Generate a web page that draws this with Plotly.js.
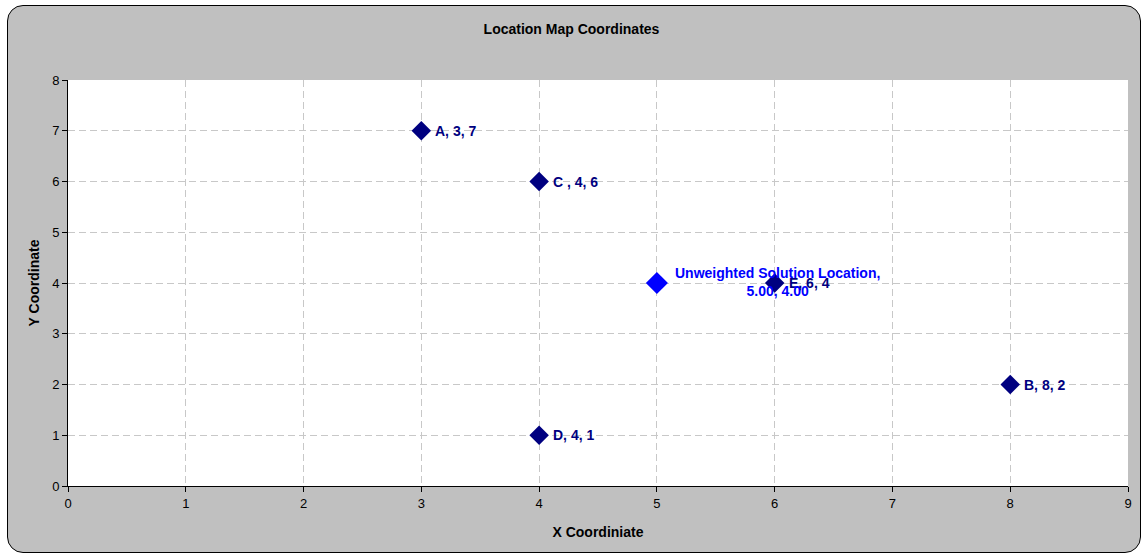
<!DOCTYPE html>
<html>
<head>
<meta charset="utf-8">
<script src="https://cdn.plot.ly/plotly-3.0.1.min.js"></script>
<style>
  html, body { margin: 0; padding: 0; background: #ffffff; }
  #frame {
    position: absolute; left: 7px; top: 5px; width: 1132px; height: 546px;
    background: #c0c0c0; border: 1.5px solid #000; border-radius: 16px;
  }
  #chart { position: absolute; left: 0; top: 0; width: 1143px; height: 555px; }
</style>
</head>
<body>
<div id="frame"></div>
<div id="chart"></div>
<script>
// Facility locations
const siteNames = ['A', 'B', 'C ', 'D', 'E'];
const siteX = [3, 8, 4, 4, 6];
const siteY = [7, 2, 6, 1, 4];

// Unweighted centre-of-gravity solution
const solutionName = 'Unweighted Solution Location';
const solutionX = [5.00];
const solutionY = [4.00];

const xTicks = [0, 1, 2, 3, 4, 5, 6, 7, 8, 9];
const yTicks = [0, 1, 2, 3, 4, 5, 6, 7, 8];

const FONT = 'Arial, "Liberation Sans", sans-serif';
const LABEL_SIZE = 14;

const sites = {
  type: 'scatter', mode: 'markers',
  x: siteX, y: siteY,
  marker: { symbol: 'diamond', size: 15, color: '#000080', line: { width: 0 } },
  hoverinfo: 'skip', showlegend: false, cliponaxis: false
};
const solution = {
  type: 'scatter', mode: 'markers',
  x: solutionX, y: solutionY,
  marker: { symbol: 'diamond', size: 17, color: '#0000ff', line: { width: 0 } },
  hoverinfo: 'skip', showlegend: false, cliponaxis: false
};

const annotations = siteNames.map((n, i) => ({
  x: siteX[i], y: siteY[i], xref: 'x', yref: 'y',
  text: n + ', ' + siteX[i] + ', ' + siteY[i],
  showarrow: false, xanchor: 'left', yanchor: 'middle', xshift: 12,
  font: { family: FONT, size: LABEL_SIZE, color: '#000080', weight: 'bold' }
}));
annotations.push({
  x: solutionX[0], y: solutionY[0], xref: 'x', yref: 'y',
  text: solutionName + ',<br>' + solutionX[0].toFixed(2) + ', ' + solutionY[0].toFixed(2),
  showarrow: false, xanchor: 'center', yanchor: 'middle', xshift: 121, yshift: 1,
  align: 'center',
  font: { family: FONT, size: LABEL_SIZE, color: '#0000ff', weight: 'bold' }
});

const layout = {
  width: 1143, height: 555,
  margin: { l: 68, r: 15, t: 80, b: 69 },
  paper_bgcolor: 'rgba(0,0,0,0)',
  plot_bgcolor: '#ffffff',
  font: { family: FONT, size: 13, color: '#000' },
  title: {
    text: 'Location Map Coordinates',
    font: { family: FONT, size: 14, color: '#000', weight: 'bold' },
    x: 0.5, xanchor: 'center', y: 0.947, yanchor: 'middle'
  },
  xaxis: {
    range: [0, 9], tickvals: xTicks, ticktext: xTicks.map(String),
    showline: true, linecolor: '#000', linewidth: 1,
    ticks: 'outside', ticklen: 5, tickcolor: '#000',
    showgrid: true, gridcolor: '#c8c8c8', griddash: '7px,4px', gridwidth: 1,
    zeroline: false,
    tickfont: { family: FONT, size: 13, color: '#000' },
    title: { text: 'X Coordiniate', standoff: 17,
      font: { family: FONT, size: 14, color: '#000', weight: 'bold' } }
  },
  yaxis: {
    range: [0, 8], tickvals: yTicks, ticktext: yTicks.map(String),
    showline: true, linecolor: '#000', linewidth: 1,
    ticks: 'outside', ticklen: 5, tickcolor: '#000',
    showgrid: true, gridcolor: '#c8c8c8', griddash: '7px,4px', gridwidth: 1,
    zeroline: false,
    tickfont: { family: FONT, size: 13, color: '#000' },
    title: { text: 'Y Coordinate', standoff: 9,
      font: { family: FONT, size: 14, color: '#000', weight: 'bold' } }
  },
  annotations: annotations
};

Plotly.newPlot('chart', [sites, solution], layout, { displayModeBar: false, staticPlot: true });
</script>
</body>
</html>
